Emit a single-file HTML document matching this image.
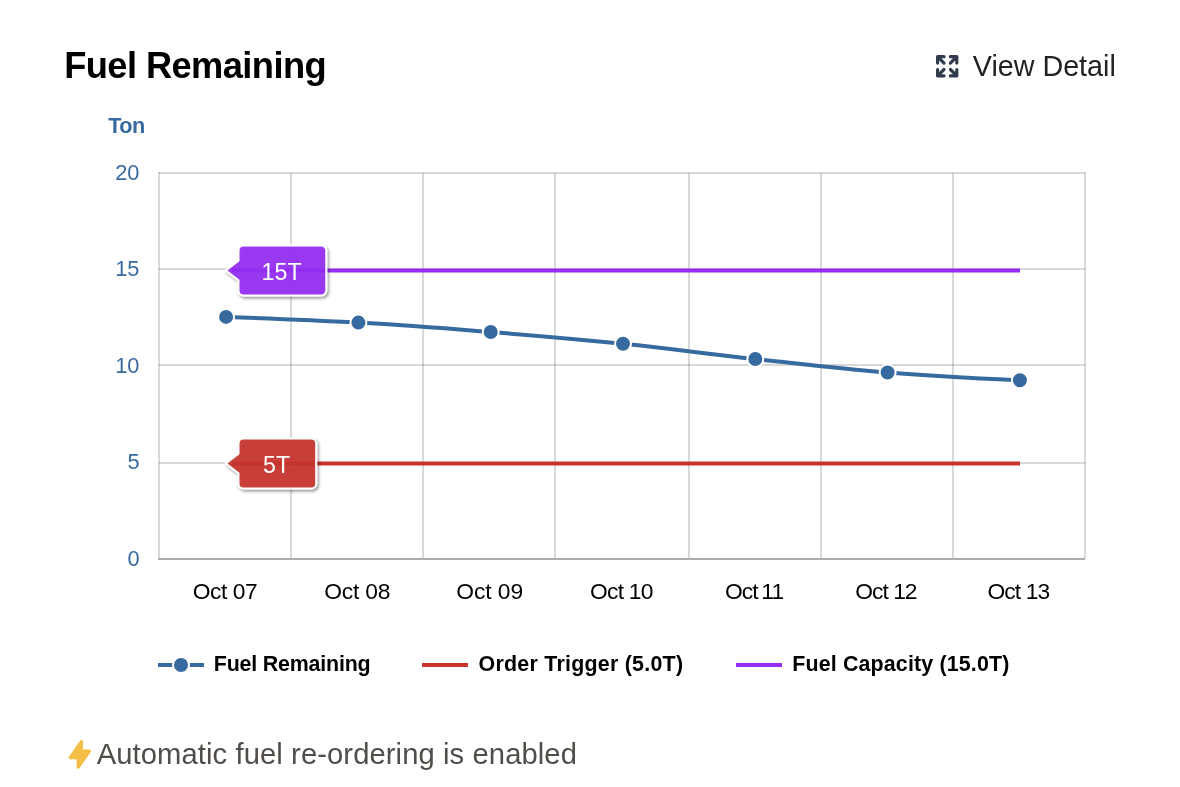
<!DOCTYPE html>
<html lang="en">
<head>
<meta charset="utf-8">
<title>Fuel Remaining</title>
<style>
html,body{margin:0;padding:0;background:#fff;}
body{width:1180px;height:787px;position:relative;overflow:hidden;font-family:"Liberation Sans",sans-serif;color:#000;}
.t{position:absolute;white-space:nowrap;line-height:1;display:inline-block;transform-origin:0 0;}
.title{left:64.2px;top:48.3px;font-size:36.3px;font-weight:bold;color:#000;letter-spacing:-0.6px;}
.view{left:972.8px;top:52.4px;font-size:28.7px;color:#222;letter-spacing:0;}
.ton{left:108.3px;top:115.2px;font-size:21.7px;font-weight:bold;color:#376a9f;letter-spacing:-0.6px;}
.yl{font-size:21.8px;color:#376a9f;text-align:right;left:60px;width:79.5px;}
.xl{font-size:22.8px;color:#000;top:579.9px;}
.lg{font-size:21.4px;font-weight:bold;color:#000;top:653.9px;}
.note{left:96.7px;top:739.5px;font-size:29.2px;color:#514d49;letter-spacing:0.09px;}
.badge{font-size:23.2px;color:#fff;}
svg{position:absolute;left:0;top:0;}
</style>
</head>
<body>
<svg width="1180" height="787" viewBox="0 0 1180 787">
  <defs>
    <filter id="sh" x="-20%" y="-20%" width="140%" height="150%">
      <feDropShadow dx="1.5" dy="2" stdDeviation="1.8" flood-color="#000" flood-opacity="0.42"/>
    </filter>
  </defs>
  <!-- grid -->
  <g stroke="#000" stroke-opacity="0.15" stroke-width="2" fill="none">
    <path d="M159 173H1086M159 269H1085M159 365H1085M159 463H1085"/>
    <path d="M159 172V559M291 173V559M423 173V559M555 173V559M689 173V559M821 173V559M953 173V559M1085 173V559"/>
  </g>
  <path d="M158 559H1085" stroke="#ababab" stroke-width="2" fill="none"/>
  <!-- threshold lines -->
  <path d="M232 270.5H1020" stroke="#962df5" stroke-width="4" fill="none"/>
  <path d="M232 463.5H1020" stroke="#c8332b" stroke-width="4" fill="none"/>
  <!-- series -->
  <path d="M226.1 316.9C226.1 316.9 305.5 319.6 358.4 322.6C411.3 325.6 437.8 327.8 490.7 332.0C543.6 336.2 570.1 338.4 623.0 343.8C675.9 349.2 702.4 353.3 755.3 359.0C808.2 364.7 834.7 368.2 887.6 372.5C940.5 376.8 1019.9 380.3 1019.9 380.3" stroke="#376a9f" stroke-width="4" fill="none" stroke-linejoin="round" stroke-linecap="round"/>
  <g fill="#376a9f" stroke="#fff" stroke-width="2">
    <circle cx="226.1" cy="316.9" r="8"/>
    <circle cx="358.4" cy="322.6" r="8"/>
    <circle cx="490.7" cy="332" r="8"/>
    <circle cx="623" cy="343.8" r="8"/>
    <circle cx="755.3" cy="359" r="8"/>
    <circle cx="887.6" cy="372.5" r="8"/>
    <circle cx="1019.9" cy="380.3" r="8"/>
  </g>
  <!-- badges -->
  <g filter="url(#sh)">
    <path d="M243.5 245.5H321.3A5 5 0 0 1 326.3 250.5V290.5A5 5 0 0 1 321.3 295.5H243.5A5 5 0 0 1 238.5 290.5V280.3L225.8 270.5L238.5 260.7V250.5A5 5 0 0 1 243.5 245.5Z" fill="#962df5" fill-opacity="0.9" stroke="#fff" stroke-width="2" stroke-linejoin="round"/>
  </g>
  <g filter="url(#sh)">
    <path d="M243.5 438.4H311.2A5 5 0 0 1 316.2 443.4V483.4A5 5 0 0 1 311.2 488.4H243.5A5 5 0 0 1 238.5 483.4V473.3L225.8 463.5L238.5 453.7V443.4A5 5 0 0 1 243.5 438.4Z" fill="#c8332b" fill-opacity="0.9" stroke="#fff" stroke-width="2" stroke-linejoin="round"/>
  </g>
  <!-- legend symbols -->
  <path d="M158 665H204" stroke="#376a9f" stroke-width="4"/>
  <circle cx="181" cy="665" r="8" fill="#376a9f" stroke="#fff" stroke-width="2"/>
  <path d="M422 665H468" stroke="#c8332b" stroke-width="4"/>
  <path d="M736 665H782" stroke="#962df5" stroke-width="4"/>
  <!-- view detail icon -->
  <g transform="translate(931.2 50.3) scale(1.6)" fill="#2f3a4c">
    <path d="M3 4a1 1 0 011-1h4a1 1 0 010 2H6.414l2.293 2.293a1 1 0 01-1.414 1.414L5 6.414V8a1 1 0 01-2 0V4zm9 1a1 1 0 110-2h4a1 1 0 011 1v4a1 1 0 11-2 0V6.414l-2.293 2.293a1 1 0 11-1.414-1.414L13.586 5H12zm-9 7a1 1 0 112 0v1.586l2.293-2.293a1 1 0 011.414 1.414L6.414 15H8a1 1 0 110 2H4a1 1 0 01-1-1v-4zm13-1a1 1 0 011 1v4a1 1 0 01-1 1h-4a1 1 0 110-2h1.586l-2.293-2.293a1 1 0 011.414-1.414L15 13.586V12a1 1 0 011-1z"/>
  </g>
  <!-- bolt -->
  <g transform="translate(63.8 738.4) scale(1.6)" fill="#f2be45">
    <path fill-rule="evenodd" clip-rule="evenodd" d="M11.3 1.046A1 1 0 0112 2v5h4a1 1 0 01.82 1.573l-7 10A1 1 0 018 18v-5H4a1 1 0 01-.82-1.573l7-10a1 1 0 011.12-.38z"/>
  </g>
</svg>

<span class="t title">Fuel Remaining</span>
<span class="t view">View Detail</span>
<span class="t ton">Ton</span>

<span class="t yl" style="top:161.8px;">20</span>
<span class="t yl" style="top:258.2px;">15</span>
<span class="t yl" style="top:354.7px;">10</span>
<span class="t yl" style="top:451.1px;">5</span>
<span class="t yl" style="top:547.6px;">0</span>

<span class="t xl" style="left:192.7px;letter-spacing:-0.44px;">Oct 07</span>
<span class="t xl" style="left:324.2px;letter-spacing:-0.20px;">Oct 08</span>
<span class="t xl" style="left:456.3px;letter-spacing:-0.06px;">Oct 09</span>
<span class="t xl" style="left:590.1px;letter-spacing:-0.76px;">Oct 10</span>
<span class="t xl" style="left:724.9px;letter-spacing:-0.86px;word-spacing:-2px;">Oct 11</span>
<span class="t xl" style="left:855.2px;letter-spacing:-0.96px;">Oct 12</span>
<span class="t xl" style="left:987.4px;letter-spacing:-0.88px;">Oct 13</span>

<span class="t lg" style="left:213.8px;letter-spacing:-0.19px;">Fuel Remaining</span>
<span class="t lg" style="left:478.6px;letter-spacing:0.25px;">Order Trigger (5.0T)</span>
<span class="t lg" style="left:792.2px;letter-spacing:0.16px;">Fuel Capacity (15.0T)</span>

<span class="t badge" style="left:261.6px;top:261.2px;">15T</span>
<span class="t badge" style="left:263.1px;top:453.6px;">5T</span>

<span class="t note">Automatic fuel re-ordering is enabled</span>
</body>
</html>
